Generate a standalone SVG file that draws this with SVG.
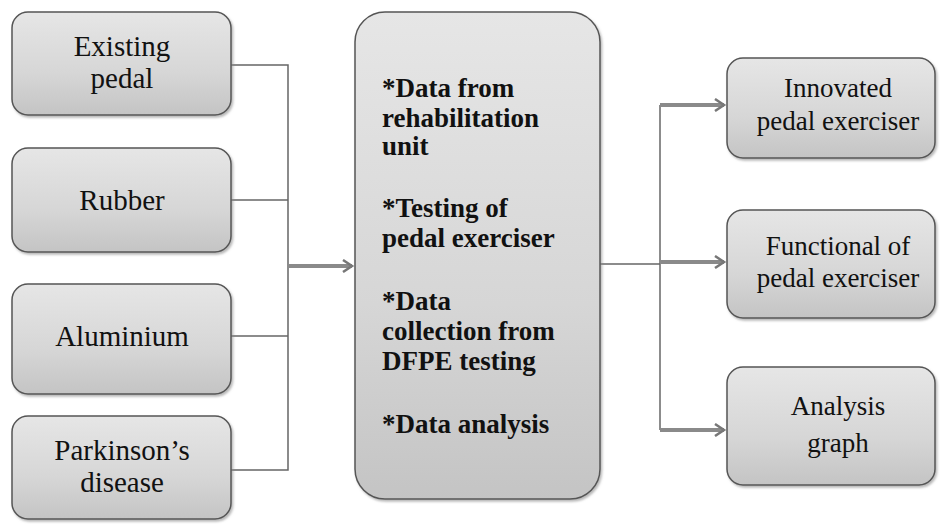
<svg xmlns="http://www.w3.org/2000/svg" width="942" height="524" viewBox="0 0 942 524">
<defs>
<linearGradient id="g" x1="0" y1="0" x2="0" y2="1">
<stop offset="0" stop-color="#e6e6e6"/>
<stop offset="0.6" stop-color="#d6d6d6"/>
<stop offset="1" stop-color="#c4c4c4"/>
</linearGradient>
<marker id="ah" markerWidth="14" markerHeight="14" refX="11" refY="7" orient="auto" markerUnits="userSpaceOnUse">
<path d="M2,1 L11,7 L2,13" fill="none" stroke="#777" stroke-width="2.5"/>
</marker>
<filter id="sh" x="-5%" y="-5%" width="115%" height="115%">
<feDropShadow dx="1.5" dy="2" stdDeviation="1.2" flood-color="#888" flood-opacity="0.6"/>
</filter>
</defs>
<style>
.box{fill:url(#g);stroke:#555;stroke-width:1.5;filter:url(#sh)}
.t{fill:#111;text-anchor:middle}
.lt{font-size:29px}
.rt{font-size:27px}
.ct{font-weight:bold;font-size:27px;fill:#111}
.ln{fill:none;stroke:#666;stroke-width:1.5}
.ar{fill:none;stroke:#8a8a8a;stroke-width:4;marker-end:url(#ah)}
</style>
<rect width="942" height="524" fill="#fff"/>
<g id="connectors">
<path class="ln" d="M231,65 H288 V470 H231"/>
<path class="ln" d="M231,200 H288"/>
<path class="ln" d="M231,336 H288"/>
<path class="ar" d="M289,266 H352"/>
<path class="ln" d="M600,264 H660"/>
<path class="ln" d="M660,105 V430"/>
<path class="ar" d="M660,105 H724"/>
<path class="ar" d="M660,262 H724"/>
<path class="ar" d="M660,430 H724"/>
</g>
<g font-family="Liberation Serif, DejaVu Serif, serif">
<g id="existing-pedal">
<rect class="box" x="12" y="12" width="219" height="103" rx="16"/>
<text class="t lt" x="122" y="56">Existing</text>
<text class="t lt" x="122" y="88">pedal</text>
</g>
<g id="rubber">
<rect class="box" x="12" y="148" width="219" height="104" rx="16"/>
<text class="t lt" x="122" y="210">Rubber</text>
</g>
<g id="aluminium">
<rect class="box" x="12" y="284" width="219" height="110" rx="16"/>
<text class="t lt" x="122" y="346">Aluminium</text>
</g>
<g id="parkinsons-disease">
<rect class="box" x="12" y="416" width="219" height="103" rx="16"/>
<text class="t lt" x="122" y="460">Parkinson’s</text>
<text class="t lt" x="122" y="492">disease</text>
</g>
<g id="process">
<rect class="box" x="355" y="12" width="245" height="487" rx="30"/>
<text class="ct" x="382" y="97">*Data from</text>
<text class="ct" x="382" y="127">rehabilitation</text>
<text class="ct" x="382" y="155">unit</text>
<text class="ct" x="382" y="217">*Testing of</text>
<text class="ct" x="382" y="247">pedal exerciser</text>
<text class="ct" x="382" y="310">*Data</text>
<text class="ct" x="382" y="340">collection from</text>
<text class="ct" x="382" y="370">DFPE testing</text>
<text class="ct" x="382" y="433">*Data analysis</text>
</g>
<g id="innovated">
<rect class="box" x="727" y="58" width="208" height="100" rx="16"/>
<text class="t rt" x="838" y="97">Innovated</text>
<text class="t rt" x="838" y="130">pedal exerciser</text>
</g>
<g id="functional">
<rect class="box" x="727" y="210" width="208" height="108" rx="16"/>
<text class="t rt" x="838" y="255">Functional of</text>
<text class="t rt" x="838" y="287">pedal exerciser</text>
</g>
<g id="analysis-graph">
<rect class="box" x="727" y="367" width="208" height="118" rx="16"/>
<text class="t rt" x="838" y="415">Analysis</text>
<text class="t rt" x="838" y="452">graph</text>
</g>
</g>
</svg>
